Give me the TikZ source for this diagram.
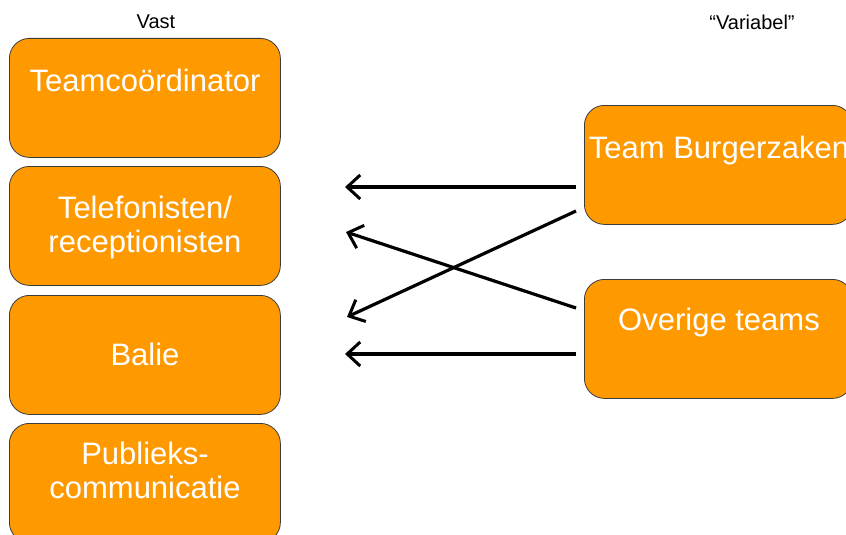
\documentclass[tikz,border=0pt]{standalone}
\usepackage{fontspec}
\setmainfont{Liberation Sans}
\usetikzlibrary{arrows.meta}
\definecolor{boxorange}{RGB}{255,153,0}
\definecolor{boxline}{RGB}{60,60,60}
\tikzset{
  box/.style={draw=boxline, line width=0.8pt, fill=boxorange, rounded corners=20pt,
    minimum width=271pt, minimum height=119pt, inner sep=0pt, anchor=north west},
  boxtext/.style={text=white, font=\fontsize{31}{34}\selectfont, align=center, inner sep=0pt},
  head/.style={font=\fontsize{20}{24}\selectfont, inner sep=0pt},
  link/.style={line width=3.2pt, -{Straight Barb[length=13pt,width=24pt,line width=3pt]}}
}
\begin{document}
\begin{tikzpicture}[x=1pt,y=-1pt]
\useasboundingbox (0,0) rectangle (846,535);
\clip (0,0) rectangle (846,535);
% headers
\node[head] (vast) at (156,22) {Vast};
\node[head] (var) at (752,22) {“Variabel”};
% left column
\node[box] (tc) at (9,38) {};
\node[box] (tel) at (9,166) {};
\node[box] (bal) at (9,295) {};
\node[box] (pub) at (9,423) {};
\node[boxtext] (tctxt) at (145,80) {Teamcoördinator};
\node[boxtext] (teltxt) at (145,227) {Telefonisten/\\receptionisten};
\node[boxtext] (baltxt) at (145,354) {Balie};
\node[boxtext] (pubtxt) at (145,470) {Publieks-\\communicatie};
% right column
\node[box, minimum width=268pt] (tb) at (584,105) {};
\node[box, minimum width=268pt] (ov) at (584,279) {};
\node[boxtext] (tbtxt) at (719,150) {Team Burgerzaken};
\node[boxtext] (ovtxt) at (719,322) {Overige teams};
% arrow endpoints
\coordinate (s1) at (576,187);
\coordinate (e1) at (345,187);
\coordinate (s2) at (576,211);
\coordinate (e2) at (347,317);
\coordinate (s3) at (576,308);
\coordinate (e3) at (346,232);
\coordinate (s4) at (576,354);
\coordinate (e4) at (345,354);
\draw[link] (s1) -- (e1);
\draw[link] (s2) -- (e2);
\draw[link] (s3) -- (e3);
\draw[link] (s4) -- (e4);
\end{tikzpicture}
\end{document}
